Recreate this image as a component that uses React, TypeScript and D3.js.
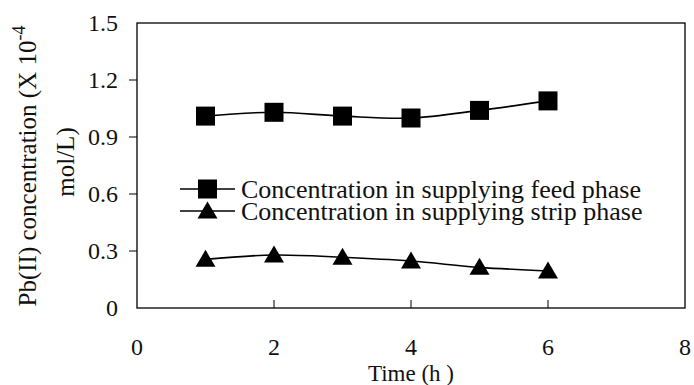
import React from "react";
import * as d3 from "d3";

// Sampling times (h)
const times = [1, 2, 3, 4, 5, 6];
// Pb(II) concentration, ×10^-4 mol/L
const feedPhase = [1.01, 1.03, 1.01, 1.0, 1.04, 1.09];
const stripPhase = [0.256, 0.279, 0.267, 0.247, 0.214, 0.195];

const xTicks = [0, 2, 4, 6, 8];
const yTicks = [0, 0.3, 0.6, 0.9, 1.2, 1.5];
const yTickLabels = ["0", "0.3", "0.6", "0.9", "1.2", "1.5"];

const seriesNames = [
  "Concentration in supplying feed phase",
  "Concentration in supplying strip phase",
];

const W = 694;
const H = 385;
const left = 137;
const right = 685;
const top = 23;
const bottom = 308;
const FONT = "'Liberation Serif', 'Times New Roman', serif";
const TICK_FS = 24;
const TITLE_FS = 25;
const LEGEND_FS = 26;

export default function App() {
  const x = d3.scaleLinear().domain([0, 8]).range([left, right]);
  const y = d3.scaleLinear().domain([0, 1.5]).range([bottom, top]);

  const line = d3
    .line<number>()
    .x((_, i) => x(times[i]))
    .y((d) => y(d))
    .curve(d3.curveCatmullRom.alpha(0));

  const sq = 19;
  const tri = (cx: number, cy: number) => {
    const w = 20;
    const h = 17;
    return `M${cx},${cy - h / 2 - 1}L${cx + w / 2},${cy + h / 2 - 1}L${cx - w / 2},${cy + h / 2 - 1}Z`;
  };

  const legendX1 = 180;
  const legendX2 = 235;
  const legendMid = (legendX1 + legendX2) / 2;
  const legendY = [189, 211];

  return (
    <svg
      width={W}
      height={H}
      style={{ position: "absolute", left: 0, top: 0, background: "#fff" }}
      fontFamily={FONT}
    >
      <rect x={0} y={0} width={W} height={H} fill="#fff" />
      {/* plot frame */}
      <rect
        x={left}
        y={top}
        width={right - left}
        height={bottom - top}
        fill="none"
        stroke="#000"
        strokeWidth={1.3}
      />
      {/* y axis ticks (outward) and labels */}
      {yTicks.map((t, i) => (
        <g key={"y" + i}>
          {i > 0 && i < yTicks.length - 1 && (
            <line x1={left - 8} x2={left} y1={y(t)} y2={y(t)} stroke="#000" strokeWidth={1} />
          )}
          <text x={118} y={y(t)} dy="0.35em" textAnchor="end" fontSize={TICK_FS} fill="#111">
            {yTickLabels[i]}
          </text>
        </g>
      ))}
      {/* x axis ticks (inward) and labels */}
      {xTicks.map((t, i) => (
        <g key={"x" + i}>
          {i > 0 && i < xTicks.length - 1 && (
            <line x1={x(t)} x2={x(t)} y1={bottom - 8} y2={bottom} stroke="#000" strokeWidth={1} />
          )}
          <text x={x(t)} y={347} dy="0.35em" textAnchor="middle" fontSize={TICK_FS} fill="#111">
            {t}
          </text>
        </g>
      ))}
      <text x={411} y={381} textAnchor="middle" fontSize={23} fill="#111">
        Time (h )
      </text>
      {/* y axis title, two lines */}
      <g transform="translate(27,166) rotate(-90)">
        <text textAnchor="middle" fontSize={TITLE_FS} fill="#111" dy="0.35em">
          Pb(II) concentration (X 10
          <tspan dy="-0.6em" fontSize={TITLE_FS - 7}>-4</tspan>
        </text>
      </g>
      <g transform="translate(65,162) rotate(-90)">
        <text textAnchor="middle" fontSize={TITLE_FS} fill="#111" dy="0.35em">
          mol/L)
        </text>
      </g>

      {/* feed phase */}
      <path d={line(feedPhase) ?? ""} fill="none" stroke="#000" strokeWidth={1.6} />
      {feedPhase.map((v, i) => (
        <rect key={"f" + i} x={x(times[i]) - sq / 2} y={y(v) - sq / 2} width={sq} height={sq} fill="#000" />
      ))}
      {/* strip phase */}
      <path d={line(stripPhase) ?? ""} fill="none" stroke="#000" strokeWidth={1.6} />
      {stripPhase.map((v, i) => (
        <path key={"s" + i} d={tri(x(times[i]), y(v))} fill="#000" />
      ))}

      {/* legend */}
      {seriesNames.map((name, i) => (
        <g key={"l" + i}>
          <line x1={legendX1} x2={legendX2} y1={legendY[i]} y2={legendY[i]} stroke="#000" strokeWidth={1.6} />
          {i === 0 ? (
            <rect x={legendMid - sq / 2} y={legendY[i] - sq / 2} width={sq} height={sq} fill="#000" />
          ) : (
            <path d={tri(legendMid, legendY[i])} fill="#000" />
          )}
          <text x={241} y={legendY[i]} dy="0.35em" fontSize={LEGEND_FS} fill="#111">
            {name}
          </text>
        </g>
      ))}
    </svg>
  );
}
